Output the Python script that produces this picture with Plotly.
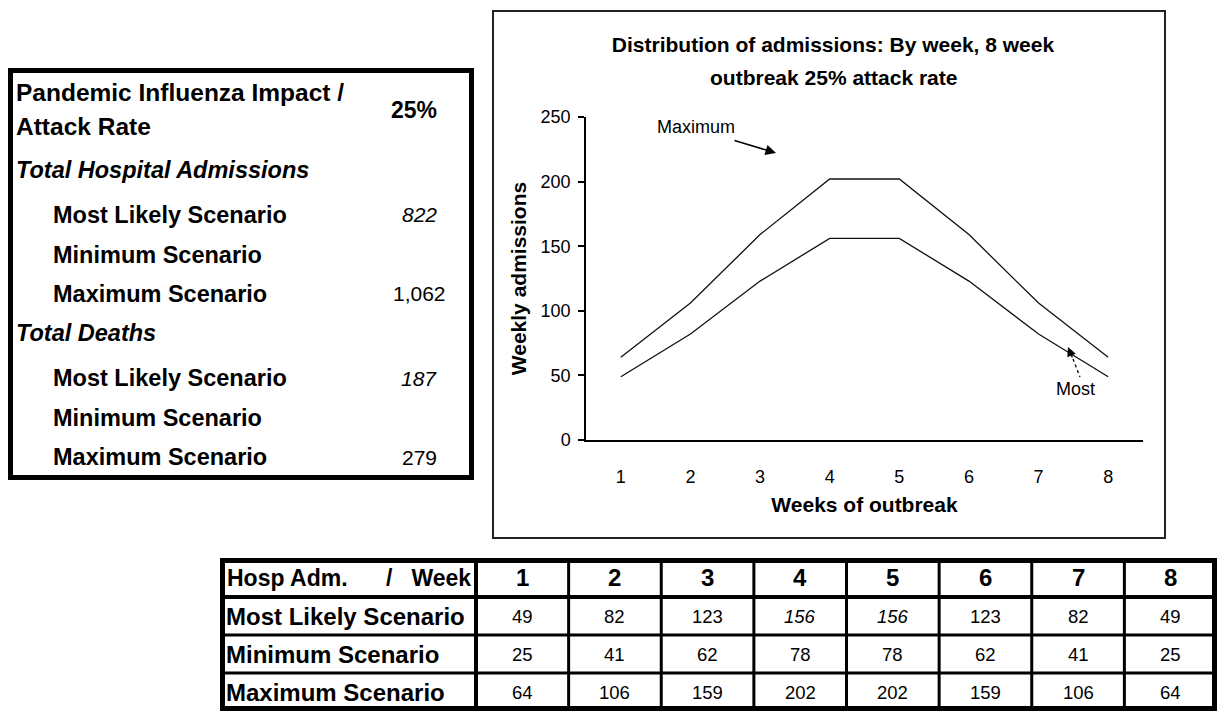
import plotly.graph_objects as go

# ---------------- data ----------------
weeks = [1, 2, 3, 4, 5, 6, 7, 8]
most_likely = [49, 82, 123, 156, 156, 123, 82, 49]
minimum = [25, 41, 62, 78, 78, 62, 41, 25]
maximum = [64, 106, 159, 202, 202, 159, 106, 64]
most_likely_italic_weeks = [4, 5]

table_header_label = ["Hosp Adm.", "/", "Week"]
table_row_labels = ["Most Likely Scenario", "Minimum Scenario", "Maximum Scenario"]

impact_label = ["Pandemic Influenza Impact /", "Attack Rate"]
attack_rate_pct = 25
section_labels = ["Total Hospital Admissions", "Total Deaths"]
scenario_labels = ["Most Likely Scenario", "Minimum Scenario", "Maximum Scenario"]
total_admissions = [822, None, 1062]
total_deaths = [187, None, 279]
italic_totals = [True, False, False]   # most likely values are italic

chart_title = ["Distribution of admissions: By week, 8 week", "outbreak 25% attack rate"]
x_title = "Weeks of outbreak"
y_title = "Weekly admissions"
line_labels = ["Maximum", "Most"]

# ---------------- layout helpers ----------------
W, H = 1219, 713
FONT = "Liberation Sans, Arial, sans-serif"
NB = "\u00a0"


def px(x):
    return x / W


def py(y):
    return 1 - y / H


def label(text, x, y, size, xanchor="center"):
    return dict(text=text, xref="paper", yref="paper", x=px(x), y=py(y),
                xanchor=xanchor, yanchor="middle", showarrow=False,
                font=dict(family=FONT, size=size, color="black"))


def seg(x0, y0, x1, y1, w, dash="solid"):
    return dict(type="line", xref="paper", yref="paper", x0=px(x0), x1=px(x1),
                y0=py(y0), y1=py(y1), line=dict(color="black", width=w, dash=dash),
                layer="above")


fig = go.Figure()

# ---------------- line chart ----------------
fig.add_trace(go.Scatter(x=weeks, y=maximum, mode="lines", name="Maximum",
                         line=dict(color="#111111", width=1.3), hoverinfo="x+y"))
fig.add_trace(go.Scatter(x=weeks, y=most_likely, mode="lines", name="Most Likely",
                         line=dict(color="#111111", width=1.3), hoverinfo="x+y"))

fig.update_xaxes(range=[0.5, 8.5], domain=[px(586), px(1143)],
                 tickvals=weeks, ticktext=[str(w) for w in weeks],
                 showline=True, linecolor="black", linewidth=1.5,
                 ticks="", showgrid=False, zeroline=False, automargin=False,
                 tickfont=dict(family=FONT, size=18, color="black"),
                 ticklabelstandoff=20,
                 title=dict(text="<b>%s</b>" % x_title, standoff=11,
                            font=dict(family=FONT, size=21, color="black")))
fig.update_yaxes(range=[0, 250], dtick=50, domain=[py(440), py(117)],
                 showline=True, linecolor="black", linewidth=1.5,
                 ticks="outside", ticklen=6, tickcolor="black", tickwidth=1.5,
                 showgrid=False, zeroline=False, automargin=False,
                 tickfont=dict(family=FONT, size=18, color="black"),
                 ticklabelstandoff=4,
                 title=dict(text="<b>%s</b>" % y_title, standoff=8,
                            font=dict(family=FONT, size=21, color="black")))

annotations = []
shapes = []

# second title line
annotations.append(label("<b>%s</b>" % chart_title[1], 833, 77, 21))

# line labels and arrows
annotations.append(label(line_labels[0], 696, 127, 18))
annotations.append(dict(text="", xref="paper", yref="paper", x=px(776), y=py(153),
                        ax=-43, ay=-13, showarrow=True, arrowhead=2, arrowsize=1.4,
                        arrowwidth=1.5, arrowcolor="black"))
annotations.append(label(line_labels[1], 1075, 389, 18))
annotations.append(dict(text="", xref="paper", yref="paper", x=px(1068), y=py(347),
                        ax=5, ay=12, showarrow=True, arrowhead=2, arrowsize=1.4,
                        arrowwidth=1.3, arrowcolor="black"))
shapes.append(seg(1073, 359, 1080, 377, 1.3, "dot"))

# chart frame
shapes.append(dict(type="rect", xref="paper", yref="paper",
                   x0=px(493), x1=px(1165), y0=py(538), y1=py(11),
                   line=dict(color="#222222", width=2), layer="below"))

# ---------------- left summary box ----------------
shapes.append(dict(type="rect", xref="paper", yref="paper",
                   x0=px(10.5), x1=px(471.5), y0=py(477.5), y1=py(70.5),
                   line=dict(color="black", width=5), layer="above"))

BOLD = 23.5
annotations.append(label("<b>%s</b>" % impact_label[0], 14, 92, 24.5, "left"))
annotations.append(label("<b>%s</b>" % impact_label[1], 14, 127, 24.5, "left"))
annotations.append(label("<b>%d%%</b>" % attack_rate_pct, 414, 110, 23))

section_y = [170, 333]
scenario_y = [[215, 255, 294], [378, 418, 457]]
section_values = [total_admissions, total_deaths]
for s in range(2):
    annotations.append(label("<b><i>%s</i></b>" % section_labels[s], 14, section_y[s], BOLD, "left"))
    for i, lab in enumerate(scenario_labels):
        annotations.append(label("<b>%s</b>" % lab, 51, scenario_y[s][i], BOLD, "left"))
        v = section_values[s][i]
        if v is not None:
            t = "{:,}".format(v)
            if italic_totals[i]:
                t = "<i>%s</i>" % t
            annotations.append(label(t, 419, scenario_y[s][i], 21))

# ---------------- bottom table (grid + cell texts) ----------------
T_X0, T_X1 = 220, 1217
FIRST_W = 256
col_w = (T_X1 - T_X0 - FIRST_W) / len(weeks)
col_edges = [T_X0, T_X0 + FIRST_W] + [T_X0 + FIRST_W + col_w * (k + 1) for k in range(len(weeks))]
row_edges = [558, 597, 635, 673, 711]
col_centers = [(col_edges[k + 1] + col_edges[k + 2]) / 2 for k in range(len(weeks))]
row_centers = [(row_edges[r] + row_edges[r + 1]) / 2 for r in range(4)]

# internal lines
for k, x in enumerate(col_edges[1:-1]):
    shapes.append(seg(x, row_edges[0], x, row_edges[-1], 4 if k == 0 else 3))
for r, y in enumerate(row_edges[1:-1]):
    shapes.append(seg(T_X0, y, T_X1, y, 4 if r == 0 else 3))
# outer border
shapes.append(dict(type="rect", xref="paper", yref="paper",
                   x0=px(T_X0 + 2.5), x1=px(T_X1 - 2.5),
                   y0=py(row_edges[-1] - 2.5), y1=py(row_edges[0] + 2.5),
                   line=dict(color="black", width=5), layer="above"))

# header texts
header_text = table_header_label[0] + NB * 6 + table_header_label[1] + NB * 3 + table_header_label[2]
annotations.append(label("<b>%s</b>" % header_text, 225, row_centers[0], 23, "left"))
for k, w in enumerate(weeks):
    annotations.append(label("<b>%d</b>" % w, col_centers[k], row_centers[0], 24))

# body texts
series_rows = [most_likely, minimum, maximum]
for r, series in enumerate(series_rows):
    annotations.append(label("<b>%s</b>" % table_row_labels[r], 224, row_centers[r + 1], 24, "left"))
    for k, w in enumerate(weeks):
        t = str(series[k])
        if r == 0 and w in most_likely_italic_weeks:
            t = "<i>%s</i>" % t
        annotations.append(label(t, col_centers[k], row_centers[r + 1], 18.5))

fig.update_layout(
    width=W, height=H,
    margin=dict(l=0, r=0, t=0, b=0),
    paper_bgcolor="white", plot_bgcolor="white",
    showlegend=False,
    title=dict(text="<b>%s</b>" % chart_title[0], x=px(833), xanchor="center",
               y=py(45), yanchor="middle",
               font=dict(family=FONT, size=21, color="black")),
    annotations=annotations,
    shapes=shapes,
)

fig.write_html("out.html", config={"displayModeBar": False},
               post_script="document.body.style.margin='0';document.body.style.overflow='hidden';")
